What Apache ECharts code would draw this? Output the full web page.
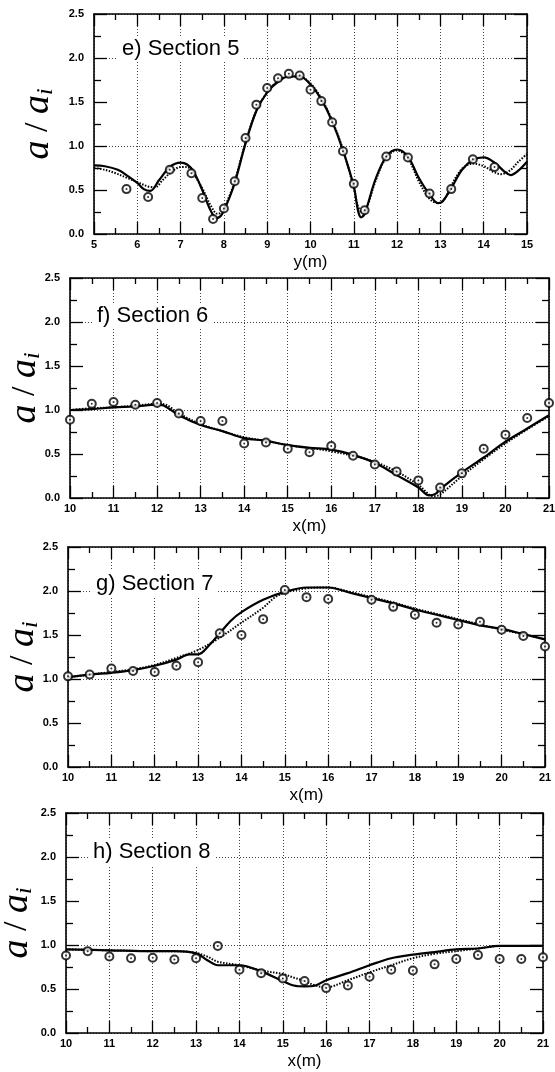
<!DOCTYPE html>
<html>
<head>
<meta charset="utf-8">
<script src="https://cdn.jsdelivr.net/npm/echarts@6/dist/echarts.min.js"></script>
<style>
  html, body { margin: 0; padding: 0; background: #fff; }
  #chart { width: 555px; height: 1072px; }
</style>
</head>
<body>
<div id="chart"></div>
<script>
// ---- Section 5 (across y) ----
const meas5 = [[5.75,0.51],[6.25,0.42],[6.75,0.73],[7.25,0.69],[7.5,0.41],[7.75,0.17],[8.0,0.29],[8.25,0.60],[8.5,1.09],[8.75,1.47],[9.0,1.66],[9.25,1.77],[9.5,1.82],[9.75,1.80],[10.0,1.64],[10.25,1.51],[10.5,1.27],[10.75,0.94],[11.0,0.57],[11.25,0.27],[11.75,0.88],[12.25,0.87],[12.75,0.46],[13.25,0.51],[13.75,0.85],[14.25,0.76]];
const solid5 = [[5.0,0.78],[5.25,0.77],[5.55,0.73],[5.75,0.67],[6.0,0.58],[6.15,0.51],[6.3,0.49],[6.5,0.61],[6.75,0.76],[7.0,0.81],[7.15,0.79],[7.3,0.71],[7.5,0.50],[7.7,0.26],[7.83,0.18],[7.95,0.22],[8.1,0.38],[8.25,0.58],[8.5,1.03],[8.75,1.40],[9.0,1.61],[9.25,1.73],[9.5,1.79],[9.75,1.79],[10.0,1.70],[10.25,1.53],[10.5,1.28],[10.75,0.95],[11.0,0.54],[11.1,0.26],[11.17,0.19],[11.25,0.23],[11.5,0.62],[11.75,0.88],[12.0,0.96],[12.25,0.88],[12.5,0.64],[12.75,0.45],[12.95,0.35],[13.05,0.37],[13.25,0.52],[13.5,0.73],[13.75,0.84],[14.0,0.87],[14.25,0.81],[14.5,0.70],[14.62,0.67],[14.8,0.72],[15.0,0.82]];
const dotted5 = [[5.0,0.75],[5.25,0.73],[5.5,0.69],[5.75,0.64],[6.0,0.59],[6.25,0.54],[6.4,0.53],[6.6,0.62],[6.8,0.71],[7.0,0.76],[7.15,0.76],[7.3,0.68],[7.5,0.52],[7.7,0.32],[7.85,0.23],[7.95,0.25],[8.1,0.40],[8.25,0.60],[8.5,1.04],[8.75,1.40],[9.0,1.61],[9.25,1.74],[9.5,1.79],[9.75,1.79],[10.0,1.71],[10.25,1.54],[10.5,1.29],[10.75,0.96],[11.0,0.52],[11.1,0.31],[11.2,0.25],[11.3,0.30],[11.5,0.60],[11.75,0.87],[12.0,0.95],[12.25,0.86],[12.5,0.60],[12.75,0.40],[12.95,0.35],[13.1,0.40],[13.25,0.55],[13.5,0.74],[13.75,0.80],[14.0,0.77],[14.25,0.70],[14.4,0.68],[14.6,0.72],[14.8,0.82],[15.0,0.91]];

// ---- Section 6 ----
const meas6 = [[10,0.89],[10.5,1.07],[11,1.09],[11.5,1.06],[12,1.08],[12.5,0.96],[13,0.875],[13.5,0.875],[14,0.62],[14.5,0.63],[15,0.56],[15.5,0.52],[16,0.59],[16.5,0.48],[17,0.38],[17.5,0.30],[18,0.20],[18.5,0.12],[19,0.28],[19.5,0.56],[20,0.72],[20.5,0.91],[21,1.08]];
const solid6 = [[10,1.0],[10.5,1.01],[11,1.03],[11.5,1.04],[12,1.06],[12.15,1.05],[12.5,0.94],[13,0.83],[13.5,0.76],[14,0.68],[14.5,0.65],[15,0.60],[15.5,0.57],[16,0.55],[16.5,0.49],[17,0.40],[17.5,0.26],[18,0.12],[18.25,0.03],[18.4,0.05],[18.5,0.10],[19,0.29],[19.5,0.46],[20,0.64],[20.5,0.79],[21,0.94]];
const dotted6 = [[10,1.0],[10.5,1.02],[11,1.03],[11.5,1.05],[12,1.07],[12.2,1.06],[12.5,0.96],[13,0.84],[13.5,0.76],[14,0.69],[14.5,0.65],[15,0.60],[15.5,0.57],[16,0.53],[16.5,0.48],[17,0.41],[17.5,0.30],[18,0.15],[18.35,0.02],[18.5,0.04],[19,0.25],[19.5,0.44],[20,0.62],[20.5,0.78],[21,0.93]];

// ---- Section 7 ----
const meas7 = [[10,1.03],[10.5,1.05],[11,1.12],[11.5,1.09],[12,1.08],[12.5,1.15],[13,1.19],[13.5,1.52],[14,1.50],[14.5,1.68],[15,2.01],[15.5,1.93],[16,1.91],[17,1.90],[17.5,1.82],[18,1.73],[18.5,1.64],[19,1.62],[19.5,1.65],[20,1.56],[20.5,1.49],[21,1.37]];
const solid7 = [[10,1.02],[10.5,1.05],[11,1.07],[11.5,1.10],[12,1.15],[12.5,1.22],[12.8,1.28],[13.0,1.28],[13.25,1.38],[13.5,1.52],[13.75,1.66],[14,1.76],[14.5,1.90],[15,1.99],[15.5,2.04],[16,2.04],[16.5,1.98],[17,1.92],[17.5,1.86],[18,1.79],[18.5,1.73],[19,1.67],[19.5,1.61],[20,1.57],[20.5,1.51],[21,1.45]];
const dotted7 = [[10,1.02],[10.5,1.05],[11,1.08],[11.5,1.11],[12,1.16],[12.5,1.24],[13,1.33],[13.5,1.47],[14,1.64],[14.5,1.81],[14.75,1.92],[15,1.98],[15.5,2.03],[16,2.04],[16.5,1.99],[17,1.93],[17.5,1.87],[18,1.80],[18.5,1.74],[19,1.68],[19.5,1.62],[20,1.56],[20.5,1.51],[21,1.45]];

// ---- Section 8 ----
const meas8 = [[10,0.88],[10.5,0.93],[11,0.87],[11.5,0.85],[12,0.855],[12.5,0.835],[13,0.85],[13.5,0.99],[14,0.72],[14.5,0.68],[15,0.62],[15.5,0.59],[16,0.51],[16.5,0.54],[17,0.64],[17.5,0.72],[18,0.71],[18.5,0.78],[19,0.84],[19.5,0.885],[20,0.84],[20.5,0.84],[21,0.86]];
const solid8 = [[10,0.95],[11,0.94],[12,0.93],[12.5,0.93],[13,0.905],[13.25,0.83],[13.5,0.77],[14,0.77],[14.5,0.70],[15,0.59],[15.25,0.54],[15.5,0.53],[15.75,0.54],[16,0.60],[16.5,0.68],[17,0.77],[17.5,0.85],[18,0.89],[18.5,0.92],[19,0.95],[19.5,0.96],[20,0.99],[21,0.99]];
const dotted8 = [[10,0.95],[11,0.94],[12,0.93],[12.5,0.93],[13,0.91],[13.25,0.87],[13.5,0.81],[14,0.77],[14.5,0.71],[15,0.67],[15.25,0.63],[15.5,0.59],[15.75,0.54],[16,0.52],[16.5,0.60],[17,0.69],[17.5,0.77],[18,0.85],[18.5,0.90],[19,0.93],[19.5,0.96],[20,0.99],[21,0.99]];

const titles = ['e) Section 5', 'f) Section 6', 'g) Section 7', 'h) Section 8'];
const xNames = ['y(m)', 'x(m)', 'x(m)', 'x(m)'];
const xRanges = [[5, 15], [10, 21], [10, 21], [10, 21]];
const yRange = [0, 2.5];

const panels = [
  { meas: meas5, solid: solid5, dotted: dotted5 },
  { meas: meas6, solid: solid6, dotted: dotted6 },
  { meas: meas7, solid: solid7, dotted: dotted7 },
  { meas: meas8, solid: solid8, dotted: dotted8 }
];

// plot-area placement of each panel
const layout = [
  { left: 94, top: 14,  width: 433, height: 220, tLeft: 118, tTop: 36,  yGap: 36 },
  { left: 70, top: 278, width: 479, height: 220, tLeft: 93,  tTop: 303, yGap: 25 },
  { left: 68, top: 547, width: 477, height: 220, tLeft: 92,  tTop: 571, yGap: 25 },
  { left: 66, top: 813, width: 477, height: 220, tLeft: 89,  tTop: 839, yGap: 29 }
];

const INK = '#000';
const grid = [], xAxis = [], yAxis = [], series = [], title = [];

// a / a_i in italic serif, subscript dropped toward the baseline side
const serifName = '{a|a}{s| / }{a|a}{i|i}';
const nameRich = {
  a: { fontFamily: 'Liberation Serif', fontStyle: 'italic', fontSize: 38, lineHeight: 40, color: INK },
  s: { fontFamily: 'Liberation Serif', fontSize: 34, lineHeight: 40, color: INK },
  i: { fontFamily: 'Liberation Serif', fontStyle: 'italic', fontSize: 24, lineHeight: 24, verticalAlign: 'bottom', color: INK }
};

panels.forEach((p, k) => {
  const L = layout[k];
  grid.push({ left: L.left, top: L.top, width: L.width, height: L.height, outerBoundsMode: 'none' });

  const tick = { show: true, inside: true, length: 12, lineStyle: { color: INK, width: 1.3 } };
  const minor = { show: true, splitNumber: 2, length: 6, lineStyle: { color: INK, width: 1.3 } };
  const line = { show: true, onZero: false, lineStyle: { color: INK, width: 1.6 } };

  // bottom x axis with labels and vertical grid
  xAxis.push({
    gridIndex: k, type: 'value', position: 'bottom',
    min: xRanges[k][0], max: xRanges[k][1], interval: 1,
    axisLine: line, axisTick: tick, minorTick: minor,
    axisLabel: { color: INK, fontFamily: 'Liberation Sans', fontWeight: 'bold', fontSize: 11, margin: 5 },
    splitLine: { show: true, lineStyle: { color: '#444', width: 1, type: [1, 2] } },
    name: xNames[k], nameLocation: 'middle', nameGap: 20, nameMoveOverlap: false,
    nameTextStyle: { color: INK, fontFamily: 'Liberation Sans', fontSize: 17 }
  });
  // top mirror
  xAxis.push({
    gridIndex: k, type: 'value', position: 'top',
    min: xRanges[k][0], max: xRanges[k][1], interval: 1,
    axisLine: line, axisTick: tick, minorTick: minor,
    axisLabel: { show: false }, splitLine: { show: false }
  });
  // left y axis
  yAxis.push({
    gridIndex: k, type: 'value', position: 'left',
    min: yRange[0], max: yRange[1], interval: 0.5,
    axisLine: line, axisTick: Object.assign({}, tick, { length: 13 }),
    minorTick: Object.assign({}, minor, { length: 7 }),
    axisLabel: { color: INK, fontFamily: 'Liberation Sans', fontWeight: 'bold', fontSize: 11, margin: 10,
                 formatter: v => v.toFixed(1) },
    splitLine: { show: false },
    name: serifName, nameLocation: 'middle', nameRotate: 90, nameGap: L.yGap, nameMoveOverlap: false,
    nameTextStyle: { rich: nameRich }
  });
  // right mirror
  yAxis.push({
    gridIndex: k, type: 'value', position: 'right',
    min: yRange[0], max: yRange[1], interval: 0.5,
    axisLine: line, axisTick: Object.assign({}, tick, { length: 13 }),
    minorTick: Object.assign({}, minor, { length: 7 }),
    axisLabel: { show: false }, splitLine: { show: false }
  });
  // horizontal dotted guides every 1.0
  yAxis.push({
    gridIndex: k, type: 'value', position: 'left',
    min: yRange[0], max: yRange[1], interval: 1,
    axisLine: { show: false }, axisTick: { show: false }, axisLabel: { show: false },
    splitLine: { show: true, lineStyle: { color: '#444', width: 1, type: [1, 2] } }
  });

  const xi = 2 * k, yi = 3 * k;
  series.push({
    type: 'line', xAxisIndex: xi, yAxisIndex: yi, data: p.dotted, smooth: 0.35,
    symbol: 'none', lineStyle: { color: INK, width: 2, type: [1.5, 1.5] }, z: 3
  });
  series.push({
    type: 'line', xAxisIndex: xi, yAxisIndex: yi, data: p.solid, smooth: 0.35,
    symbol: 'none', lineStyle: { color: INK, width: 2.2 }, z: 4
  });
  series.push({
    type: 'scatter', xAxisIndex: xi, yAxisIndex: yi, data: p.meas,
    symbol: 'emptyCircle', symbolSize: 8,
    itemStyle: { color: INK, borderColor: INK, borderWidth: 1.3 }, z: 5
  });
  series.push({
    type: 'scatter', xAxisIndex: xi, yAxisIndex: yi, data: p.meas,
    symbol: 'circle', symbolSize: 2, itemStyle: { color: INK }, z: 6
  });

  title.push({
    text: titles[k], left: L.tLeft, top: L.tTop, padding: [2, 4],
    backgroundColor: '#fff',
    textStyle: { color: INK, fontFamily: 'Liberation Sans', fontWeight: 'normal', fontSize: 22 }
  });
});

const chart = echarts.init(document.getElementById('chart'), null, { renderer: 'canvas' });
chart.setOption({
  animation: false,
  backgroundColor: '#fff',
  title, grid, xAxis, yAxis, series
});
</script>
</body>
</html>
